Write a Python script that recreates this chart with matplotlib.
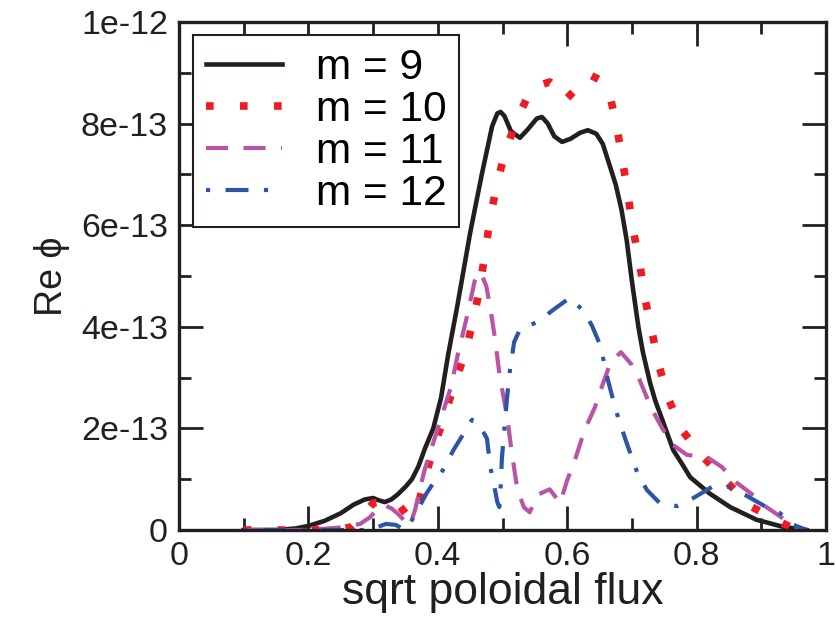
import numpy as np
import matplotlib
matplotlib.use("Agg")
import matplotlib.pyplot as plt
from matplotlib.ticker import MultipleLocator

# values, Re phi in units of 1e-13
x_m9 = [0.10, 0.15, 0.18, 0.20, 0.225, 0.25, 0.27, 0.287, 0.30, 0.31, 0.318, 0.328,
        0.338, 0.35, 0.36, 0.37, 0.38, 0.393, 0.405, 0.416, 0.43, 0.45, 0.468, 0.484,
        0.492, 0.497, 0.503, 0.513, 0.527, 0.54, 0.553, 0.561, 0.57, 0.58, 0.592,
        0.605, 0.62, 0.632, 0.645, 0.655, 0.665, 0.675, 0.684, 0.692, 0.70, 0.71,
        0.717, 0.728, 0.736, 0.747, 0.764, 0.78, 0.79, 0.805, 0.82, 0.852, 0.893,
        0.908, 0.934, 0.97]
y_m9 = [0.0, 0.0, 0.03, 0.08, 0.18, 0.33, 0.5, 0.60, 0.63, 0.58, 0.55, 0.60,
        0.70, 0.85, 1.0, 1.25, 1.6, 2.0, 2.6, 3.45, 4.4, 5.85, 7.0, 7.95,
        8.2, 8.23, 8.15, 7.85, 7.72, 7.9, 8.1, 8.13, 8.0, 7.75, 7.64,
        7.7, 7.82, 7.87, 7.8, 7.6, 7.2, 6.8, 6.3, 5.7, 4.9, 4.0,
        3.5, 2.9, 2.55, 2.17, 1.57, 1.25, 1.04, 0.88, 0.72, 0.45, 0.2,
        0.15, 0.06, 0.0]

x_m10 = [0.10, 0.20, 0.25, 0.267, 0.285, 0.30, 0.32, 0.338, 0.352, 0.362, 0.37,
         0.377, 0.391, 0.408, 0.424, 0.442, 0.455, 0.465, 0.473, 0.481, 0.491,
         0.504, 0.522, 0.545, 0.573, 0.585, 0.597, 0.615, 0.635, 0.652, 0.666,
         0.677, 0.686, 0.694, 0.702, 0.712, 0.72, 0.731, 0.742, 0.756, 0.777,
         0.81, 0.847, 0.886, 0.932, 0.955]
y_m10 = [0.0, 0.0, 0.02, 0.06, 0.3, 0.53, 0.58, 0.52, 0.3, 0.26, 0.5,
         0.88, 1.5, 2.16, 2.8, 3.48, 4.13, 4.78, 5.45, 6.14, 6.79,
         7.44, 8.07, 8.7, 8.82, 8.7, 8.46, 8.7, 8.96, 8.85, 8.56,
         7.91, 7.24, 6.59, 5.9, 5.26, 4.57, 3.9, 3.23, 2.6, 1.97,
         1.44, 0.94, 0.45, 0.14, 0.0]

x_m11 = [0.10, 0.20, 0.25, 0.28, 0.295, 0.306, 0.318, 0.329, 0.34, 0.35, 0.357,
         0.365, 0.375, 0.38, 0.39, 0.405, 0.42, 0.43, 0.445, 0.457, 0.466, 0.475,
         0.482, 0.488, 0.496, 0.507, 0.514, 0.523, 0.533, 0.542, 0.555, 0.573,
         0.582, 0.589, 0.60, 0.612, 0.627, 0.643, 0.653, 0.667, 0.683, 0.70,
         0.712, 0.73, 0.747, 0.764, 0.785, 0.818, 0.839, 0.862, 0.883, 0.908,
         0.93, 0.944, 0.965]
y_m11 = [0.0, 0.0, 0.05, 0.12, 0.25, 0.4, 0.49, 0.42, 0.3, 0.16, 0.1,
         0.4, 0.95, 1.2, 1.6, 2.2, 2.8, 3.4, 4.2, 4.9, 5.08, 4.8,
         4.3, 3.8, 3.0, 2.25, 1.55, 0.8, 0.45, 0.35, 0.7, 0.8,
         0.65, 0.53, 0.98, 1.38, 1.97, 2.42, 2.8, 3.3, 3.5, 3.25,
         2.95, 2.4, 2.0, 1.67, 1.48, 1.42, 1.24, 0.93, 0.73, 0.45,
         0.26, 0.1, 0.0]

x_m12 = [0.10, 0.29, 0.305, 0.32, 0.335, 0.345, 0.352, 0.362, 0.383, 0.396, 0.408,
         0.424, 0.44, 0.453, 0.465, 0.476, 0.481, 0.486, 0.492, 0.495, 0.497,
         0.499, 0.503, 0.507, 0.512, 0.518, 0.527, 0.555, 0.578, 0.604, 0.624,
         0.638, 0.651, 0.663, 0.671, 0.679, 0.692, 0.708, 0.723, 0.743, 0.77,
         0.795, 0.824, 0.849, 0.875, 0.908, 0.929, 0.95, 0.97]
y_m12 = [0.0, 0.0, 0.05, 0.12, 0.1, 0.03, 0.02, 0.24, 0.73, 0.98, 1.18,
         1.57, 1.9, 2.17, 2.05, 1.8, 1.25, 0.95, 0.55, 0.45, 0.8,
         1.4, 2.0, 2.6, 3.2, 3.7, 3.95, 4.1, 4.33, 4.57, 4.33,
         4.03, 3.64, 2.95, 2.56, 2.2, 1.71, 1.14, 0.79, 0.53, 0.47,
         0.63, 0.85, 0.85, 0.69, 0.45, 0.33, 0.1, 0.0]

labels = ["m = 9", "m = 10", "m = 11", "m = 12"]
x_ticks = [0, 0.2, 0.4, 0.6, 0.8, 1.0]
x_ticklabels = ["0", "0.2", "0.4", "0.6", "0.8", "1"]
y_ticks = [0, 2e-13, 4e-13, 6e-13, 8e-13, 1e-12]
y_ticklabels = ["0", "2e-13", "4e-13", "6e-13", "8e-13", "1e-12"]

plt.rcParams["font.family"] = ["Liberation Sans", "DejaVu Sans"]

fig = plt.figure(figsize=(8.37, 6.23), dpi=100)
ax = fig.add_axes([179 / 837, 93 / 623, 647 / 837, 508 / 623])

styles = [
    dict(color="#231f20", lw=3.3, ls="-"),
    dict(color="#ed1c24", lw=5.5, ls=(0, (1, 3.45))),
    dict(color="#b854a5", lw=3.0, ls=(0, (5.3, 3.7))),
    dict(color="#2c55a5", lw=3.0, ls=(0, (1, 3.7, 5.5, 3.7))),
]
series = [(x_m9, y_m9), (x_m10, y_m10), (x_m11, y_m11), (x_m12, y_m12)]
for (xs, ys), st, lab in zip(series, styles, labels):
    ax.plot(xs, np.array(ys) * 1e-13, label=lab, **st)

ax.set_xlim(0, 1)
ax.set_ylim(0, 1e-12)
ax.set_xticks(x_ticks)
ax.set_xticklabels(x_ticklabels)
ax.set_yticks(y_ticks)
ax.set_yticklabels(y_ticklabels)
ax.xaxis.set_minor_locator(MultipleLocator(0.1))
ax.yaxis.set_minor_locator(MultipleLocator(1e-13))
ax.tick_params(which="both", direction="in", top=True, right=True, width=2, color="#231f20",
               labelsize=24.5, labelcolor="#231f20")
ax.tick_params(which="major", length=17, pad=8)
ax.tick_params(which="minor", length=8.5)
for sp in ax.spines.values():
    sp.set_linewidth(2.4)
    sp.set_color("#231f20")

ax.set_xlabel("sqrt poloidal flux", fontsize=32, color="#231f20", labelpad=0)
ax.set_ylabel("Re \u03d5", fontsize=27, color="#231f20", labelpad=8)

leg = ax.legend(loc="upper left", bbox_to_anchor=(0.0216, 0.974), borderaxespad=0,
                fontsize=30.5, handlelength=1.8, handletextpad=0.8, labelspacing=0.05,
                borderpad=0.3, fancybox=False, framealpha=1)
leg.get_frame().set_edgecolor("#231f20")
leg.get_frame().set_linewidth(1.5)

fig.savefig("out.png", dpi=100)
